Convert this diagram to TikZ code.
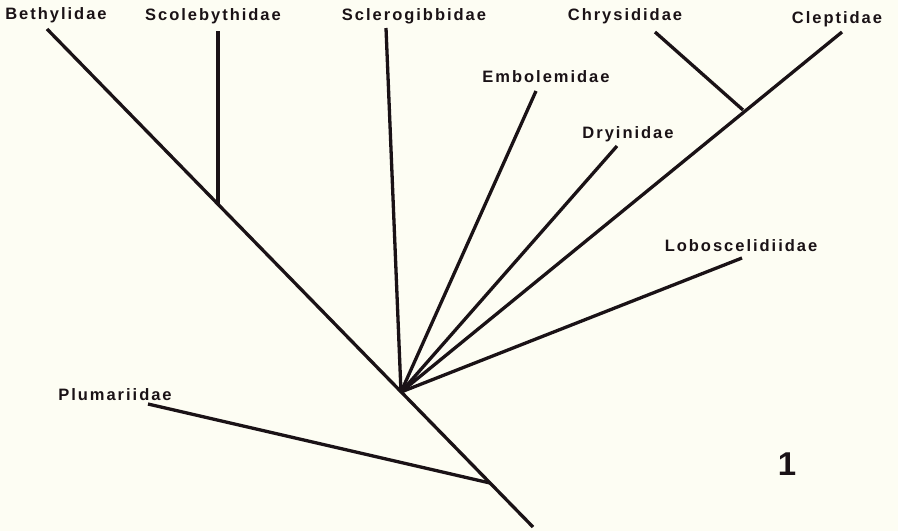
\documentclass[tikz,border=0pt]{standalone}
\usepackage{fontspec}
\setmainfont{Liberation Sans}
\newfontfamily\labfont[LetterSpace=12]{Liberation Sans}
\definecolor{bg}{HTML}{FDFDF3}
\definecolor{ink}{HTML}{1A1216}
\tikzset{
  lab/.style={font=\labfont\bfseries\fontsize{16.5}{18}\selectfont, text=ink, anchor=base, inner sep=0pt},
  branch/.style={draw=ink, line width=3.3pt, line cap=butt, line join=round}
}
\begin{document}
\begin{tikzpicture}[x=1pt,y=-1pt]
\fill[bg] (0,0) rectangle (898,531);
\useasboundingbox (0,0) rectangle (898,531);
% labels
\node[lab] (beth) at (56,19) {Bethylidae};
\node[lab] (scol) at (213,20) {Scolebythidae};
\node[lab] (scle) at (414,20) {Sclerogibbidae};
\node[lab] (chry) at (625,20) {Chrysididae};
\node[lab] (clep) at (837,23) {Cleptidae};
\node[lab] (embo) at (546,82) {Embolemidae};
\node[lab] (dryi) at (628,138) {Dryinidae};
\node[lab] (lobo) at (741,251) {Loboscelidiidae};
\node[lab] (plum) at (115,400) {Plumariidae};
\node[font=\bfseries\fontsize{33}{36}\selectfont, text=ink, anchor=base, inner sep=0pt] (num) at (787,475) {1};
% coordinates
\coordinate (tBeth) at (47,29);
\coordinate (root) at (533,527);
\coordinate (jScol) at (218,204);
\coordinate (tScol) at (218,31);
\coordinate (hub) at (401,392);
\coordinate (tScle) at (386,28);
\coordinate (tEmbo) at (536,91);
\coordinate (tDryi) at (617,146);
\coordinate (tClep) at (842,32);
\coordinate (jChry) at (743,110);
\coordinate (tChry) at (655,32);
\coordinate (tLobo) at (742,258);
\coordinate (jPlum) at (490,483);
\coordinate (tPlum) at (148,404);
% branches
\draw[branch] (tBeth) -- (root);
\draw[branch] (tScol) -- (jScol);
\draw[branch] (tScle) -- (hub);
\draw[branch] (tEmbo) -- (hub);
\draw[branch] (tDryi) -- (hub);
\draw[branch] (tClep) -- (hub);
\draw[branch] (tChry) -- (jChry);
\draw[branch] (tLobo) -- (hub);
\draw[branch] (tPlum) -- (jPlum);
\end{tikzpicture}
\end{document}
